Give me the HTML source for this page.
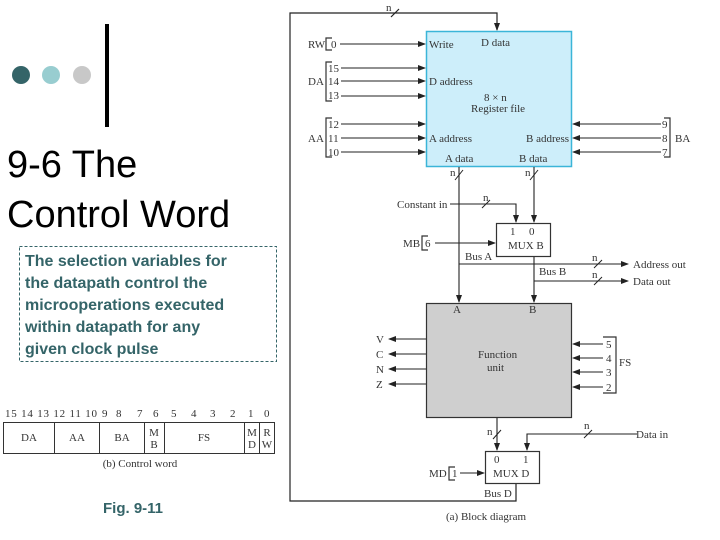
<!DOCTYPE html>
<html><head><meta charset="utf-8"><style>
html,body{margin:0;padding:0;background:#fff;}
svg{display:block;}
.s{font-family:"Liberation Serif",serif;font-size:11px;fill:#333;}
</style></head><body>
<svg width="720" height="540" viewBox="0 0 720 540" xmlns="http://www.w3.org/2000/svg">
<defs>
<marker id="a" markerWidth="8" markerHeight="6" refX="7" refY="3" orient="auto" markerUnits="userSpaceOnUse"><path d="M0,0 L8,3 L0,6 z" fill="#222"/></marker>
</defs>
<circle cx="21" cy="75" r="9" fill="#346468"/>
<circle cx="51" cy="75" r="9" fill="#98cdd0"/>
<circle cx="82" cy="75" r="9" fill="#c8c8c8"/>
<rect x="105" y="24" width="4" height="103" fill="#000"/>
<text x="7" y="177" font-family="Liberation Sans,sans-serif" font-size="38" fill="#000">9-6  The</text>
<text x="7" y="227" font-family="Liberation Sans,sans-serif" font-size="38" fill="#000">Control Word</text>
<rect x="19.5" y="246.5" width="257" height="115" fill="none" stroke="#346468" stroke-dasharray="3,2" stroke-width="1"/>
<g font-family="Liberation Sans,sans-serif" font-size="16" font-weight="bold" fill="#346468">
<text x="25" y="266">The selection variables for</text>
<text x="25" y="288">the datapath control the</text>
<text x="25" y="310">microoperations executed</text>
<text x="25" y="332">within datapath for any</text>
<text x="25" y="354">given clock pulse</text>
</g>
<g class="s" font-size="10">
<text x="5" y="417" textLength="92" lengthAdjust="spacing">15 14 13 12 11 10</text>
<text x="102" y="417">9</text><text x="116" y="417">8</text><text x="137" y="417">7</text>
<text x="153" y="417">6</text><text x="171" y="417">5</text><text x="191" y="417">4</text><text x="210" y="417">3</text><text x="230" y="417">2</text><text x="248" y="417">1</text><text x="264" y="417">0</text>
</g>
<rect x="3.5" y="422.5" width="271" height="31" fill="none" stroke="#333"/>
<g stroke="#333"><line x1="54.5" y1="422" x2="54.5" y2="454"/><line x1="99.5" y1="422" x2="99.5" y2="454"/><line x1="144.5" y1="422" x2="144.5" y2="454"/><line x1="164.5" y1="422" x2="164.5" y2="454"/><line x1="244.5" y1="422" x2="244.5" y2="454"/><line x1="259.5" y1="422" x2="259.5" y2="454"/></g>
<g class="s" font-size="10" text-anchor="middle">
<text x="29" y="441">DA</text><text x="77" y="441">AA</text><text x="122" y="441">BA</text>
<text x="154" y="436">M</text><text x="154" y="448">B</text>
<text x="204" y="441">FS</text>
<text x="252" y="436">M</text><text x="252" y="448">D</text>
<text x="267" y="436">R</text><text x="267" y="448">W</text>
<text x="140" y="467">(b) Control word</text>
</g>
<text x="103" y="513" font-family="Liberation Sans,sans-serif" font-size="15" font-weight="bold" fill="#346468">Fig. 9-11</text>

<g stroke="#222" stroke-width="1.2" fill="none">
<polyline points="516,484 516,501 290,501 290,13 497,13 497,30" marker-end="url(#a)"/>
<line x1="391" y1="17" x2="399" y2="9"/>
</g>
<rect x="426.5" y="31.5" width="145" height="135" fill="#cdeefa" stroke="#3bb5d8" stroke-width="1.5"/>
<rect x="426.5" y="303.5" width="145" height="114" fill="#cfcfcf" stroke="#333" stroke-width="1.2"/>
<rect x="496.5" y="223.5" width="54" height="33" fill="#fff" stroke="#333" stroke-width="1.2"/>
<rect x="485.5" y="451.5" width="54" height="32" fill="#fff" stroke="#333" stroke-width="1.2"/>
<g stroke="#222" stroke-width="1.1" fill="none" marker-end="url(#a)">
<line x1="340" y1="44" x2="425" y2="44"/>
<line x1="341" y1="68" x2="425" y2="68"/>
<line x1="341" y1="81" x2="425" y2="81"/>
<line x1="341" y1="96" x2="425" y2="96"/>
<line x1="341" y1="124" x2="425" y2="124"/>
<line x1="341" y1="138" x2="425" y2="138"/>
<line x1="341" y1="152" x2="425" y2="152"/>
<line x1="661" y1="124" x2="573" y2="124"/>
<line x1="661" y1="138" x2="573" y2="138"/>
<line x1="661" y1="152" x2="573" y2="152"/>
<line x1="459" y1="167" x2="459" y2="302"/>
<line x1="534" y1="167" x2="534" y2="222"/>
<polyline points="450,204 516,204 516,222"/>
<line x1="435" y1="243" x2="495" y2="243"/>
<polyline points="459,264 628,264"/>
<polyline points="534,257 534,302"/>
<polyline points="534,281 628,281"/>
<line x1="426" y1="339" x2="389" y2="339"/>
<line x1="426" y1="354" x2="389" y2="354"/>
<line x1="426" y1="369" x2="389" y2="369"/>
<line x1="426" y1="384" x2="389" y2="384"/>
<line x1="603" y1="344" x2="573" y2="344"/>
<line x1="603" y1="358" x2="573" y2="358"/>
<line x1="603" y1="372" x2="573" y2="372"/>
<line x1="603" y1="387" x2="573" y2="387"/>
<line x1="497" y1="418" x2="497" y2="450"/>
<polyline points="637,434 527,434 527,450"/>
<line x1="460" y1="473" x2="484" y2="473"/>
</g>
<g stroke="#222" stroke-width="1">
<line x1="455" y1="180" x2="463" y2="170"/><line x1="530" y1="180" x2="538" y2="170"/>
<line x1="482" y1="208" x2="490" y2="200"/>
<line x1="594" y1="268" x2="602" y2="260"/><line x1="594" y1="285" x2="602" y2="277"/>
<line x1="493" y1="439" x2="501" y2="430"/><line x1="584" y1="438" x2="592" y2="430"/>
</g>
<g stroke="#333" stroke-width="1.2" fill="none">
<polyline points="332,38 326,38 326,50 332,50"/>
<polyline points="332,62 326,62 326,101 332,101"/>
<polyline points="332,118 326,118 326,157 332,157"/>
<polyline points="664,118 670,118 670,157 664,157"/>
<polyline points="428,236 422,236 422,250 428,250"/>
<polyline points="603,337 616,337 616,393 603,393"/>
<polyline points="455,467 449,467 449,480 455,480"/>
</g>
<g class="s">
<text x="308" y="48">RW</text><text x="331" y="48">0</text>
<text x="308" y="85">DA</text><text x="328" y="72">15</text><text x="328" y="85">14</text><text x="328" y="99">13</text>
<text x="308" y="142">AA</text><text x="328" y="128">12</text><text x="328" y="142">11</text><text x="328" y="156">10</text>
<text x="662" y="128">9</text><text x="662" y="142">8</text><text x="662" y="156">7</text><text x="675" y="142">BA</text>
<text x="429" y="48">Write</text><text x="481" y="46">D data</text>
<text x="429" y="85">D address</text>
<text x="484" y="101">8 × n</text><text x="471" y="112">Register file</text>
<text x="429" y="142">A address</text><text x="526" y="142">B address</text>
<text x="445" y="162">A data</text><text x="519" y="162">B data</text>
<text x="450" y="176">n</text><text x="525" y="176">n</text>
<text x="386" y="11">n</text><text x="483" y="201">n</text>
<text x="397" y="208">Constant in</text>
<text x="510" y="235">1</text><text x="529" y="235">0</text><text x="508" y="249">MUX B</text>
<text x="403" y="247">MB</text><text x="425" y="247">6</text>
<text x="465" y="260">Bus A</text><text x="539" y="275">Bus B</text>
<text x="592" y="261">n</text><text x="592" y="278">n</text>
<text x="633" y="268">Address out</text><text x="633" y="285">Data out</text>
<text x="453" y="313">A</text><text x="529" y="313">B</text>
<text x="478" y="358">Function</text><text x="487" y="371">unit</text>
<text x="376" y="343">V</text><text x="376" y="358">C</text><text x="376" y="373">N</text><text x="376" y="388">Z</text>
<text x="606" y="348">5</text><text x="606" y="362">4</text><text x="606" y="376">3</text><text x="606" y="391">2</text><text x="619" y="366">FS</text>
<text x="487" y="435">n</text><text x="584" y="429">n</text>
<text x="636" y="438">Data in</text>
<text x="494" y="463">0</text><text x="523" y="463">1</text><text x="493" y="477">MUX D</text>
<text x="429" y="477">MD</text><text x="452" y="477">1</text>
<text x="484" y="497">Bus D</text>
<text x="446" y="520">(a) Block diagram</text>
</g>
</svg>
</body></html>
